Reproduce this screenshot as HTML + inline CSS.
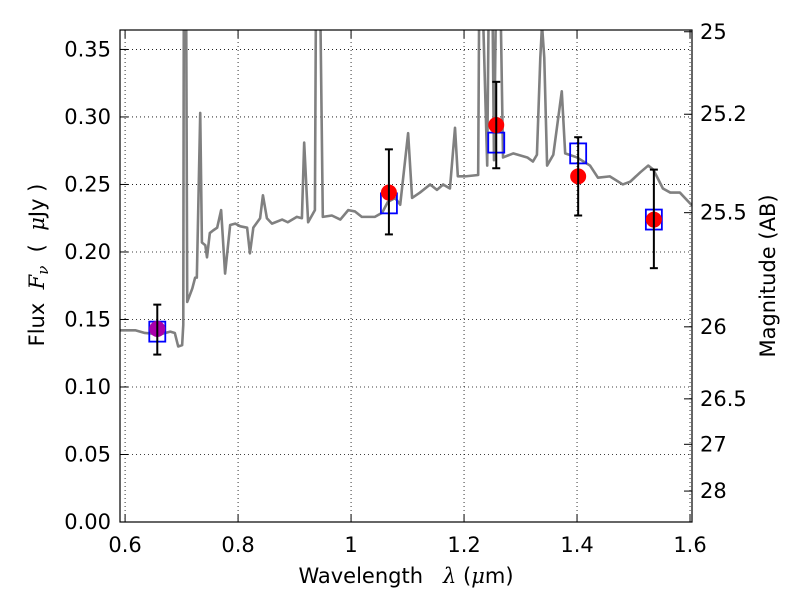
<!DOCTYPE html>
<html><head><meta charset="utf-8"><style>
body{margin:0;background:#fff}
svg{display:block;font-family:"DejaVu Sans","Liberation Sans",sans-serif}
</style></head><body>
<svg id="c" width="800" height="600">
<defs><clipPath id="pc"><rect x="120" y="30" width="572" height="492"/></clipPath></defs>
<rect x="0" y="0" width="800" height="600" fill="#fff"/>
<g id="grid"></g>
<g id="spec" clip-path="url(#pc)"></g>
<g id="pts"></g>
<g id="axes"></g>
<text x="406" y="583" font-size="21" text-anchor="middle">Wavelength&#160;&#160;&#160;<tspan font-style="italic" font-family="DejaVu Serif,serif">λ</tspan>&#160;(<tspan font-style="italic" font-family="DejaVu Serif,serif">μ</tspan>m)</text>
<text transform="translate(44,265) rotate(-90)" font-size="21" text-anchor="middle">Flux&#160;&#160;<tspan font-style="italic" font-family="DejaVu Serif,serif">F</tspan><tspan font-style="italic" font-size="15" dy="4" font-family="DejaVu Serif,serif">ν</tspan><tspan dy="-4">&#160;&#160;(&#160;&#160;</tspan><tspan font-style="italic" font-family="DejaVu Serif,serif">μ</tspan>Jy&#160;)</text>
<text transform="translate(775,276) rotate(-90)" font-size="21" text-anchor="middle">Magnitude (AB)</text>
</svg>
<script>
const specWave=[0.591,0.618,0.635,0.662,0.680,0.688,0.694,0.701,0.703,0.704,0.708,0.710,0.719,0.724,0.727,0.733,0.736,0.742,0.745,0.750,0.756,0.763,0.770,0.777,0.786,0.795,0.804,0.816,0.821,0.827,0.839,0.844,0.851,0.860,0.878,0.888,0.904,0.913,0.917,0.924,0.936,0.938,0.945,0.950,0.966,0.981,0.995,1.007,1.019,1.042,1.055,1.065,1.078,1.087,1.101,1.108,1.122,1.140,1.152,1.163,1.175,1.184,1.189,1.202,1.225,1.227,1.232,1.241,1.244,1.250,1.253,1.257,1.264,1.269,1.287,1.312,1.322,1.329,1.335,1.338,1.342,1.347,1.358,1.373,1.379,1.400,1.423,1.437,1.458,1.481,1.494,1.512,1.526,1.535,1.552,1.565,1.582,1.600,1.605];
const specFlux=[0.142,0.142,0.140,0.139,0.141,0.140,0.130,0.131,0.146,0.40,0.40,0.163,0.173,0.181,0.181,0.303,0.207,0.205,0.196,0.214,0.216,0.218,0.231,0.184,0.220,0.221,0.219,0.218,0.199,0.218,0.225,0.242,0.225,0.221,0.224,0.222,0.226,0.225,0.281,0.222,0.231,0.40,0.40,0.226,0.227,0.224,0.231,0.230,0.226,0.226,0.229,0.237,0.240,0.235,0.288,0.240,0.244,0.250,0.246,0.250,0.247,0.292,0.256,0.256,0.257,0.40,0.40,0.264,0.40,0.40,0.268,0.40,0.40,0.270,0.273,0.270,0.267,0.272,0.344,0.368,0.344,0.264,0.272,0.319,0.273,0.270,0.264,0.255,0.256,0.250,0.252,0.259,0.264,0.261,0.247,0.244,0.244,0.236,0.234];
const obsWave=[0.657,1.067,1.257,1.402,1.536];
const obsFlux=[0.143,0.244,0.294,0.256,0.224];
const obsLo=[0.124,0.213,0.262,0.227,0.188];
const obsHi=[0.161,0.276,0.326,0.285,0.261];
const modelFlux=[0.141,0.236,0.281,0.273,0.224];
const xTicks=[0.6,0.8,1.0,1.2,1.4,1.6];
const xTickLabels=["0.6","0.8","1","1.2","1.4","1.6"];
const yTicks=[0,0.05,0.10,0.15,0.20,0.25,0.30,0.35];
const yTickLabels=["0.00","0.05","0.10","0.15","0.20","0.25","0.30","0.35"];
const magTicks=[25,25.2,25.5,26,26.5,27,28];
const magTickLabels=["25","25.2","25.5","26","26.5","27","28"];

const L=120,R=692,T=30,B=522,X0=0.591,X1=1.6035,Y0=0,Y1=0.3644;
const sx=v=>L+(v-X0)/(X1-X0)*(R-L);
const sy=v=>B-(v-Y0)/(Y1-Y0)*(B-T);
const magToFlux=m=>3631e6*Math.pow(10,-0.4*m);
const NS='http://www.w3.org/2000/svg';
function mk(tag,attrs,parent){const e=document.createElementNS(NS,tag);for(const k in attrs)e.setAttribute(k,attrs[k]);parent.appendChild(e);return e;}
const grid=document.getElementById('grid'),axes=document.getElementById('axes'),spec=document.getElementById('spec'),pts=document.getElementById('pts');

xTicks.forEach((t,i)=>{const x=sx(t);
 let g=mk('line',{x1:x,x2:x,y1:T,y2:B,stroke:'#000','stroke-width':0.8,'stroke-dasharray':'1,3'},grid);
 
 let a=mk('line',{x1:x,x2:x,y1:B,y2:B-8,stroke:'#000','stroke-width':1},axes);
 
 let b=mk('line',{x1:x,x2:x,y1:T,y2:T+8,stroke:'#000','stroke-width':1},axes);
 
 let l=mk('text',{x:x,y:552,'font-size':21,'text-anchor':'middle'},axes);l.textContent=xTickLabels[i];
 
});
yTicks.forEach((t,i)=>{const y=sy(t);
 let g=mk('line',{x1:L,x2:R,y1:y,y2:y,stroke:'#000','stroke-width':0.8,'stroke-dasharray':'1,3'},grid);
 
 let a=mk('line',{x1:L,x2:L+8,y1:y,y2:y,stroke:'#000','stroke-width':1},axes);
 
 let l=mk('text',{x:111,y:y+7,'font-size':21,'text-anchor':'end'},axes);l.textContent=yTickLabels[i];
 
});
magTicks.forEach((m,i)=>{const y=sy(magToFlux(m));
 let a=mk('line',{x1:R,x2:R-8,y1:y,y2:y,stroke:'#000','stroke-width':1},axes);
 
 let l=mk('text',{x:700,y:y+7,'font-size':21},axes);l.textContent=magTickLabels[i];
 
});
let fr=mk('rect',{x:L,y:T,width:R-L,height:B-T,fill:'none',stroke:'#000','stroke-width':1.2},axes);


let p=mk('polyline',{points:specWave.map((w,i)=>sx(w)+','+sy(specFlux[i])).join(' '),fill:'none',stroke:'#808080','stroke-width':2.6,'stroke-linejoin':'round'},spec);


obsWave.forEach((w,i)=>{const x=sx(w);
 let s=mk('rect',{x:x-8,y:sy(modelFlux[i])-10,width:16,height:20,fill:'none',stroke:'#0000ff','stroke-width':1.8},pts);
 
 let c=mk('circle',{cx:x,cy:sy(obsFlux[i]),r:8,fill:i===0?'#aa00aa':'#ff0000'},pts);
 
 let e=mk('line',{x1:x,x2:x,y1:sy(obsLo[i]),y2:sy(obsHi[i]),stroke:'#000','stroke-width':2},pts);
 
 [obsLo[i],obsHi[i]].forEach(v=>{let k=mk('line',{x1:x-4,x2:x+4,y1:sy(v),y2:sy(v),stroke:'#000','stroke-width':2},pts);
  });
});
</script>
</body></html>
